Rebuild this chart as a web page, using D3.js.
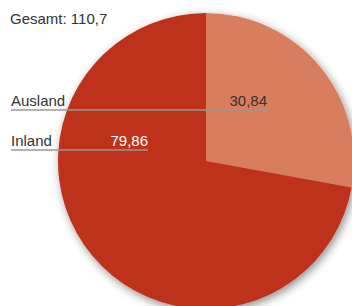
<!DOCTYPE html>
<html>
<head>
<meta charset="utf-8">
<script src="https://cdn.jsdelivr.net/npm/d3@7"></script>
<style>
  body { margin: 0; background: #fff; }
  svg { display: block; font-family: "Liberation Sans", Arial, sans-serif; }
</style>
</head>
<body>
<svg id="chart"></svg>
<script>
// data
var categories = ["Ausland", "Inland"];
var values = [30.84, 79.86];
var valueLabels = ["30,84", "79,86"];
var totalLabel = "Gesamt: 110,7";

var colors = ["#d97d5f", "#be311b"];
var labelColors = ["#333", "#fff"];

var width = 352, height = 306;
var cx = 206, cy = 161, radius = 148;

var svg = d3.select("#chart").attr("width", width).attr("height", height);

// soft shadow round the pie
var defs = svg.append("defs");
var f = defs.append("filter").attr("id", "shadow")
    .attr("x", "-20%").attr("y", "-20%").attr("width", "140%").attr("height", "140%");
f.append("feGaussianBlur").attr("in", "SourceAlpha").attr("stdDeviation", 5);
f.append("feOffset").attr("dx", 2).attr("dy", 3).attr("result", "blur");
f.append("feComponentTransfer").append("feFuncA").attr("type", "linear").attr("slope", 0.45);
var merge = f.append("feMerge");
merge.append("feMergeNode");
merge.append("feMergeNode").attr("in", "SourceGraphic");

var pie = d3.pie().sort(null).value(d => d);
var arc = d3.arc().innerRadius(0).outerRadius(radius);

var g = svg.append("g")
    .attr("transform", "translate(" + cx + "," + cy + ")")
    .attr("filter", "url(#shadow)");

g.selectAll("path")
    .data(pie(values))
    .enter()
    .append("path")
    .attr("d", arc)
    .attr("fill", (d, i) => colors[i]);

// total at top left
svg.append("text")
    .attr("x", 10).attr("y", 24)
    .attr("font-size", 15)
    .attr("fill", "#333")
    .text(totalLabel);

// label rows: name on the left, value right-aligned at end of the rule
var rowY = [110, 150];
var ruleEnd = [267, 148];

var rows = svg.selectAll(".row")
    .data(categories)
    .enter()
    .append("g")
    .attr("class", "row");

rows.append("line")
    .attr("x1", 11).attr("x2", (d, i) => ruleEnd[i])
    .attr("y1", (d, i) => rowY[i]).attr("y2", (d, i) => rowY[i])
    .attr("stroke", "#999")
    .attr("stroke-width", 1.5);

rows.append("text")
    .attr("x", 11).attr("y", (d, i) => rowY[i] - 4)
    .attr("font-size", 15)
    .attr("fill", "#333")
    .text(d => d);

rows.append("text")
    .attr("x", (d, i) => ruleEnd[i]).attr("y", (d, i) => rowY[i] - 4)
    .attr("text-anchor", "end")
    .attr("font-size", 15)
    .attr("fill", (d, i) => labelColors[i])
    .text((d, i) => valueLabels[i]);
</script>
</body>
</html>
